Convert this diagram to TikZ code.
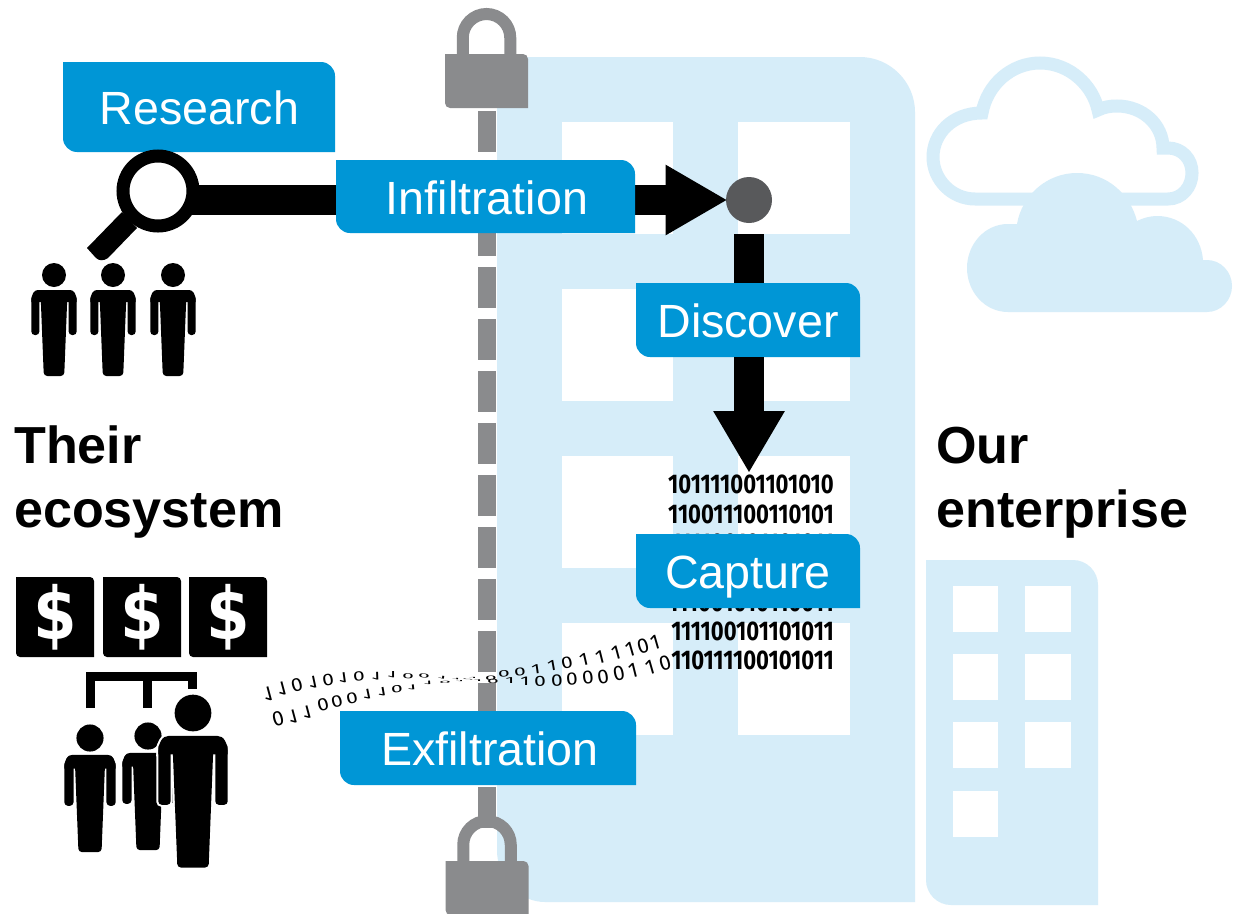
\documentclass[tikz,border=0pt]{standalone}
\usepackage{fontspec}
\setmainfont{Liberation Sans}
\newfontfamily\binfont[FakeStretch=0.815,Numbers={Proportional,Lining}]{Fira Sans}
\newfontfamily\bitfont[Numbers={Proportional,Lining}]{Fira Sans}
\newfontfamily\dollarfont{DejaVu Sans}
\usetikzlibrary{arrows.meta}
\definecolor{tabblue}{HTML}{0096D6}
\definecolor{pale}{HTML}{D6EDF9}
\definecolor{lockgrey}{HTML}{8A8B8D}
\definecolor{dotgrey}{HTML}{58595B}
% path of a box with rounded top-right and bottom-left corners: x1,y1,x2,y2,r
\newcommand\tabpath[5]{(#1,#2) -- ({#3-#5},#2) .. controls ({#3-0.45*#5},#2) and (#3,{#2+0.45*#5}) .. (#3,{#2+#5}) -- (#3,#4) -- ({#1+#5},#4) .. controls ({#1+0.45*#5},#4) and (#1,{#4-0.45*#5}) .. (#1,{#4-#5}) -- cycle}
\newcommand\tablabel[6]{\fill[tabblue] \tabpath{#2}{#3}{#4}{#5}{14};
  \node[boxlabel,minimum width=#4pt-#2pt,minimum height=#5pt-#3pt] (#1) at ({(#2+#4)/2},{(#3+#5)/2}) {#6};}
\tikzset{
  boxlabel/.style={inner sep=0pt,outer sep=0pt,text=white,text height=35pt,text depth=0pt,font=\fontsize{46.6}{50}\selectfont},
  headline/.style={inner sep=0pt,align=left,font=\fontsize{52.1}{64}\selectfont\bfseries},
  binline/.style={inner sep=0pt,anchor=base east,font=\fontsize{27}{27}\binfont\bfseries},
  bit/.style={inner sep=0pt,font=\fontsize{21}{21}\bitfont},
  dollarsign/.style={inner sep=0pt,text=white,xscale=.95,yscale=1.1,font=\fontsize{66}{66}\dollarfont\bfseries},
  bar/.style={line width=30pt,draw=black},
  windowpane/.style={fill=white},
  person/.pic={
    \fill (0,0) circle[radius=12];
    \fill (-22.7,27) .. controls (-22.7,19) and (-20,15) .. (-16,15) -- (16,15) .. controls (20,15) and (22.7,19) .. (22.7,27) -- cycle;
    \fill[rounded corners=3.5] (-22.7,20) -- (-22.7,60) -- (-14.6,60) -- (-14.6,20) -- cycle;
    \fill[rounded corners=3.5] (22.7,20) -- (22.7,60) -- (14.6,60) -- (14.6,20) -- cycle;
    \fill[rounded corners=3.5] (-13.4,20) -- (-10.2,101) -- (10.2,101) -- (13.4,20) -- cycle;
  },
  padlock/.pic={
    \draw[lockgrey,line width=12pt] (-23.75,6) -- (-23.75,-16.25) .. controls (-23.75,-29.4) and (-13.1,-40) .. (0,-40) .. controls (13.1,-40) and (23.75,-29.4) .. (23.75,-16.25) -- (23.75,6);
    \fill[lockgrey] \tabpath{-41.5}{0}{41.5}{54}{5};
  }
}
\begin{document}
\begin{tikzpicture}[x=1pt,y=-1pt]
\useasboundingbox (0,0) rectangle (1238,913);
\clip (0,0) rectangle (1238,913);
\fill[white] (0,0) rectangle (1238,913);

% clouds
\draw[pale,line width=13pt] (975,199) .. controls (952,199) and (933,180) .. (933,157)
  .. controls (933,134) and (952,113) .. (982,113)
  .. controls (987,85) and (1011,63) .. (1040,63)
  .. controls (1070,63) and (1093,86) .. (1098,110)
  .. controls (1104,107) and (1110,106) .. (1117,106)
  .. controls (1143,106) and (1163,125) .. (1163,148) -- (1168,148)
  .. controls (1182,148) and (1192,159) .. (1192,173)
  .. controls (1192,187) and (1182,199) .. (1168,199) -- cycle;
\fill[pale] (1008,312) .. controls (985,312) and (967,292) .. (967,268)
  .. controls (967,244) and (985,224) .. (1008,224) -- (1017,224)
  .. controls (1022,195) and (1047,173) .. (1077,173)
  .. controls (1107,173) and (1130,194) .. (1137,221)
  .. controls (1143,218) and (1150,216) .. (1157,216)
  .. controls (1182,216) and (1201,235) .. (1203,260) -- (1207,260)
  .. controls (1221,260) and (1232,272) .. (1232,286)
  .. controls (1232,300) and (1221,312) .. (1207,312) -- cycle;

% main building
\fill[pale] (497,57) -- (860,57) .. controls (890,57) and (915,82) .. (915,112) -- (915,902) -- (545,902) .. controls (520,902) and (497,880) .. (497,850) -- cycle;
\foreach \wy in {122,289,456,623}{
  \fill[windowpane] (562,\wy) rectangle (673,\wy+112);
  \fill[windowpane] (738,\wy) rectangle (850,\wy+112);
}
% small building
\fill[pale] \tabpath{926}{560}{1098}{905}{25};
\foreach \wy in {586,654,722}{
  \fill[windowpane] (953,\wy) rectangle (998,\wy+46);
  \fill[windowpane] (1025,\wy) rectangle (1071,\wy+46);
}
\fill[windowpane] (953,791) rectangle (998,837);

% dashed perimeter and locks
\coordinate (poletop) at (487,111);
\coordinate (polebottom) at (487,828);
\draw[lockgrey,line width=18pt,dash pattern=on 41pt off 11pt] (poletop) -- (polebottom);
\pic at (486.5,54) {padlock};
\pic at (487,861) {padlock};

% research
\tablabel{research}{63}{62}{335}{152}{\hspace*{1pt}Research}

% binary block
\node[binline] (b1) at (834,493) {101111001101010};
\node[binline] (b2) at (834,523) {110011100110101};
\node[binline] (b3) at (834,552) {111100101101011};
\node[binline] (b4) at (834,581) {110111100101011};
\node[binline] (b5) at (834,611) {111001010110011};
\node[binline] (b6) at (834,640) {111100101101011};
\node[binline] (b7) at (834,669) {110111100101011};

% flowing bits
\foreach \x/\y/\r/\s/\c in {268/694/15/-1/1,282/689/15/-.95/1,297/685/15/-.9/0,313/682/12/-.85/1,328/680/10/-.8/0,343/678/8/-.72/1,359/676/6/-.65/0,376/676/2/-.55/1,392/675/0/-.45/1,408/676/-3/-.35/0,424/676/-5/-.28/0,442/678/-8/-.2/1,456/679/-8/-.1/1,468/679/-6/-.05/0,473/678/0/.08/1,491/678/2/.3/0,504/674/5/.45/0,520/672/7/.55/0,536/669/8/.65/1,552/666/10/.72/1,567/663/12/.8/0,584/660/13/.85/1,600/657/14/.9/1,616/653/15/.95/1,630/649/16/1/1,643/646/16/1/0,655/642/16/1/1}{
  \node[bit,rotate=\r,yscale=\s] (up\x) at (\x,\y) {\c};
}
\foreach \x/\y/\r/\s/\c in {278/719/15/-1/0,293/717/15/-.95/1,307/712/15/-.9/1,323/705/15/-.85/0,337/702/14/-.8/0,352/698/13/-.75/0,367/694/12/-.7/1,382/692/10/-.6/1,397/689/8/-.5/0,412/687/6/-.35/1,428/683/4/-.25/1,445/682/2/-.15/0,460/681/0/-.08/1,478/681/0/.12/1,493/681/0/.3/0,510/681/0/.42/1,525/681/0/.6/1,540/681/2/.7/0,557/681/3/.8/0,572/679/5/.85/0,588/678/7/.9/0,603/677/9/.95/0,619/673/12/1/0,633/671/14/1/1,650/667/16/1/1,665/663/16/1/0}{
  \node[bit,rotate=\r,yscale=\s] (lo\x) at (\x,\y) {\c};
}

% hub and arrows
\node[circle,fill=dotgrey,inner sep=0pt,minimum size=46pt,outer sep=0pt] (hub) at (749,200) {};
\node[circle,draw=black,line width=13pt,fill=white,inner sep=0pt,minimum size=70pt,outer sep=0pt] (lens) at (158,191) {};
\coordinate (target) at (749,473);
\fill (122,212) -- (87,248) -- (96,258) .. controls (99,261) and (104,261) .. (108,258) -- (137,228) -- cycle;
\draw[bar,shorten <=-4pt,shorten >=-1.5pt,-{Triangle[length=62pt,width=66pt]}] (lens.east |- hub) -- (hub.west);

\tablabel{infiltration}{336}{160}{635}{233}{\hspace*{3pt}Infiltration}
\tablabel{discover}{636}{283}{860}{357}{Discover}
\tablabel{capture}{636}{534}{860}{608}{Capture}
\tablabel{exfiltration}{340}{711}{636}{785}{\hspace*{4pt}Exfiltration}

\draw[bar,shorten <=11pt] (hub.south) -- (discover.north -| hub);
\draw[bar,-{Triangle[length=62pt,width=67pt]}] (discover.south -| hub) -- (target);

% people
\foreach \px in {54,113,173}{\pic at (\px,275) {person};}

% headings
\node[headline,anchor=west] (their) at (14,482.5) {Their\\ecosystem};
\node[headline,anchor=west] (our) at (936,482.5) {Our\\enterprise};

% money
\foreach \dx/\dn in {16/a,103/b,189/c}{
  \fill \tabpath{\dx}{577}{\dx+78}{657}{4};
  \node[dollarsign] (dollar\dn) at (\dx+39,617) {\$};
}
\draw[line width=9pt] (90.5,708) -- (90.5,676.5) -- (192.5,676.5) -- (192.5,689);
\draw[line width=9pt] (147.5,676.5) -- (147.5,708);

\pic[scale=1.13] at (90,738) {person};
\pic[scale=1.13] at (148,736) {person};
\begin{scope}[every path/.style={draw=white,line width=4pt}]
\pic[scale=1.53] at (193,713) {person};
\end{scope}
\pic[scale=1.53] at (193,713) {person};
\end{tikzpicture}
\end{document}
